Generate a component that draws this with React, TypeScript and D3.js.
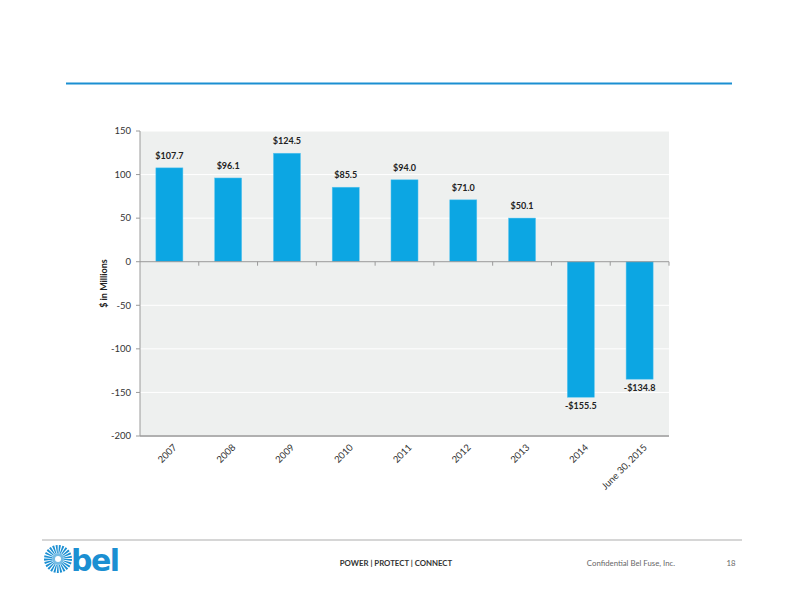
import React, { useRef, useEffect } from "react";
import * as d3 from "d3";

const categories = ["2007", "2008", "2009", "2010", "2011", "2012", "2013", "2014", "June 30, 2015"];
const values = [107.7, 96.1, 124.5, 85.5, 94.0, 71.0, 50.1, -155.5, -134.8];
const yTicks = [150, 100, 50, 0, -50, -100, -150, -200];

const FONT = "Lato, 'Open Sans', sans-serif";
const BAR_COLOR = "#0ca6e3";

const App: React.FC = () => {
  const svgRef = useRef<SVGSVGElement | null>(null);

  useEffect(() => {
    if (!svgRef.current) return;
    const svg = d3.select(svgRef.current);
    svg.selectAll("*").remove();

    // slide chrome
    svg.append("rect").attr("width", 792).attr("height", 612).attr("fill", "#fff");
    svg.append("line")
      .attr("x1", 66).attr("x2", 732).attr("y1", 83.5).attr("y2", 83.5)
      .attr("stroke", "#1b8fd2").attr("stroke-width", 2);
    svg.append("line")
      .attr("x1", 42).attr("x2", 742).attr("y1", 540).attr("y2", 540)
      .attr("stroke", "#c8c8c8").attr("stroke-width", 1.5);

    const left = 140, right = 669, top = 131, bottom = 436;
    const x = d3.scaleBand<string>().domain(categories).range([left, right]).paddingInner(0.54).paddingOuter(0.27);
    const y = d3.scaleLinear().domain([-200, 150]).range([bottom, top]);

    const g = svg.append("g");
    g.append("rect")
      .attr("x", left).attr("y", top).attr("width", right - left).attr("height", bottom - top)
      .attr("fill", "#eef0ef");

    // gridlines
    g.append("g").selectAll("line").data(yTicks.filter(t => t !== -200 && t !== 0)).enter().append("line")
      .attr("x1", left).attr("x2", right)
      .attr("y1", d => y(d)).attr("y2", d => y(d))
      .attr("stroke", "#fff").attr("stroke-width", 1);

    // bars
    g.append("g").selectAll("rect").data(values).enter().append("rect")
      .attr("x", (_, i) => x(categories[i])!)
      .attr("width", x.bandwidth())
      .attr("y", d => y(Math.max(0, d)))
      .attr("height", d => Math.abs(y(d) - y(0)))
      .attr("fill", BAR_COLOR)
      .attr("stroke", "#5cc6f0").attr("stroke-width", 0.5);

    // value labels
    g.append("g").selectAll("text").data(values).enter().append("text")
      .attr("x", (_, i) => x(categories[i])! + x.bandwidth() / 2)
      .attr("y", d => d >= 0 ? y(d) - 9 : y(d) + 12)
      .attr("text-anchor", "middle")
      .attr("font-family", FONT).attr("font-weight", "bold").attr("font-size", 9)
      .attr("fill", "#222")
      .text(d => (d < 0 ? "-$" : "$") + Math.abs(d).toFixed(1));

    // axes
    const boundaries = d3.range(categories.length + 1).map(i => left + i * (right - left) / categories.length);
    g.append("line").attr("x1", left).attr("x2", right).attr("y1", y(0)).attr("y2", y(0))
      .attr("stroke", "#9a9a9a").attr("stroke-width", 1);
    g.append("g").selectAll("line").data(boundaries.slice(1)).enter().append("line")
      .attr("x1", d => d).attr("x2", d => d).attr("y1", y(0)).attr("y2", y(0) + 4)
      .attr("stroke", "#9a9a9a");
    g.append("line").attr("x1", left).attr("x2", right).attr("y1", bottom).attr("y2", bottom)
      .attr("stroke", "#b0b0b0").attr("stroke-width", 2);
    g.append("line").attr("x1", left).attr("x2", left).attr("y1", top).attr("y2", bottom)
      .attr("stroke", "#9a9a9a").attr("stroke-width", 1);
    g.append("g").selectAll("line").data(yTicks).enter().append("line")
      .attr("x1", left - 4).attr("x2", left).attr("y1", d => y(d)).attr("y2", d => y(d))
      .attr("stroke", "#9a9a9a");
    g.append("g").selectAll("text").data(yTicks).enter().append("text")
      .attr("x", left - 9).attr("y", d => y(d)).attr("dy", "0.35em")
      .attr("text-anchor", "end")
      .attr("font-family", FONT).attr("font-size", 9.5).attr("fill", "#333")
      .text(d => d);

    // x labels
    g.append("g").selectAll("text").data(categories).enter().append("text")
      .attr("transform", d => `translate(${x(d)! + x.bandwidth() / 2 + 8},${bottom + 12}) rotate(-45)`)
      .attr("text-anchor", "end")
      .attr("font-family", FONT).attr("font-size", 9.5).attr("fill", "#333")
      .text(d => d);

    g.append("text")
      .attr("transform", `translate(107,${(top + bottom) / 2}) rotate(-90)`)
      .attr("text-anchor", "middle")
      .attr("font-family", FONT).attr("font-weight", "bold").attr("font-size", 9).attr("fill", "#222")
      .text("$ in Millions");

    // footer
    const logo = svg.append("g").attr("transform", "translate(58,559)");
    logo.append("circle").attr("r", 10).attr("fill", "none")
      .attr("stroke", "#1b8fd2").attr("stroke-width", 8).attr("stroke-dasharray", "1.5 1");
    logo.append("circle").attr("r", 6).attr("fill", "#1b8fd2").attr("opacity", 0.6);
    logo.append("circle").attr("r", 3).attr("fill", "#fff");
    svg.append("text").attr("x", 71).attr("y", 571)
      .attr("font-family", "'DejaVu Sans', sans-serif").attr("font-weight", "bold").attr("font-size", 30)
      .attr("fill", "#1b8fd2").attr("letter-spacing", -1.5)
      .text("bel");

    svg.append("text").attr("x", 396).attr("y", 566).attr("text-anchor", "middle")
      .attr("font-family", FONT).attr("font-weight", "bold").attr("font-size", 7.8).attr("fill", "#333")
      .text("POWER | PROTECT | CONNECT");
    svg.append("text").attr("x", 631).attr("y", 566).attr("text-anchor", "middle")
      .attr("font-family", FONT).attr("font-size", 7.8).attr("fill", "#666")
      .text("Confidential Bel Fuse, Inc.");
    svg.append("text").attr("x", 731).attr("y", 566).attr("text-anchor", "middle")
      .attr("font-family", FONT).attr("font-size", 7.8).attr("fill", "#666")
      .text("18");
  }, []);

  return (
    <div style={{ position: "absolute", left: 0, top: 0 }}>
      <svg ref={svgRef} width={792} height={612}></svg>
    </div>
  );
};

export default App;
